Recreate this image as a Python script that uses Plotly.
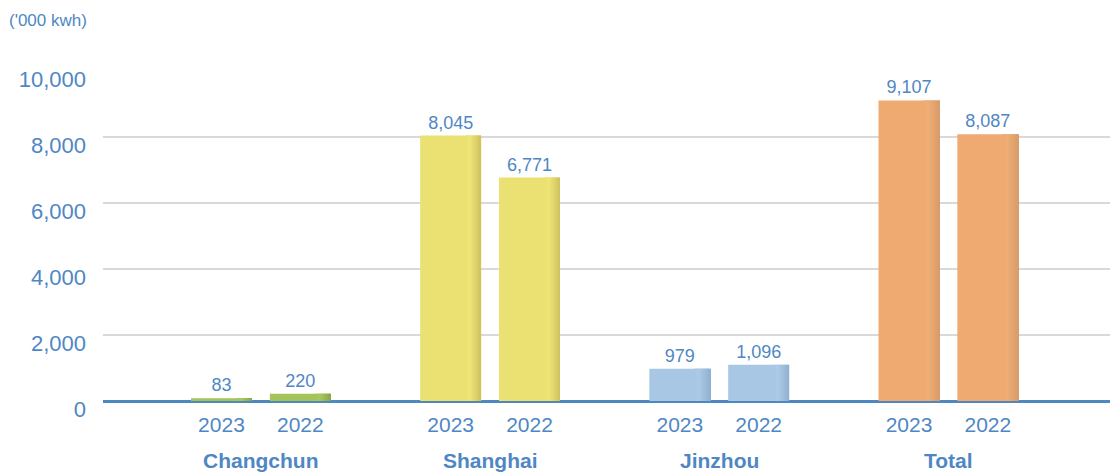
import plotly.graph_objects as go

categories = ["Changchun", "Shanghai", "Jinzhou", "Total"]
years = ["2023", "2022"]
values_2023 = [83, 8045, 979, 9107]
values_2022 = [220, 6771, 1096, 8087]
y_ticks = [0, 2000, 4000, 6000, 8000, 10000]
y_tick_text = ["0", "2,000", "4,000", "6,000", "8,000", "10,000"]
unit_label = "('000 kwh)"

base_colors = ["#a4c35b", "#ebe172", "#a8c7e4", "#eeaa71"]
dark_colors = ["#8aa847", "#d2c462", "#92b2d1", "#d89d6b"]
light_colors = ["#a9c862", "#eee577", "#adcbe7", "#f0ae76"]

BLUE = "#4f87c4"
FONT = "Liberation Sans, Arial, sans-serif"

W = 0.266
offsets = {"2023": -0.172, "2022": 0.172}
series = {"2023": values_2023, "2022": values_2022}


def hex2rgb(h):
    h = h.lstrip("#")
    return tuple(int(h[i:i + 2], 16) for i in (0, 2, 4))


def blend(a, b, t):
    ra, rb = hex2rgb(a), hex2rgb(b)
    return "rgb(%d,%d,%d)" % tuple(round(ra[i] + (rb[i] - ra[i]) * t) for i in range(3))


idx = list(range(len(categories)))
fig = go.Figure()

for yr in years:
    d = offsets[yr]
    vals = series[yr]
    fig.add_trace(go.Bar(
        x=idx, y=vals, width=W, offset=d - W / 2,
        marker=dict(color=base_colors, line=dict(width=0)),
        text=[f"{v:,}" for v in vals], textposition="outside",
        textfont=dict(color=BLUE, size=18, family=FONT),
        cliponaxis=False, showlegend=False,
    ))
    # gradient shading on the right edge
    n = 12
    start = 0.74
    sw = W * (1 - start) / n
    for k in range(n):
        t = k / (n - 1)
        if t < 0.25:
            cols = [blend(base_colors[i], light_colors[i], t / 0.25) for i in idx]
        else:
            cols = [blend(light_colors[i], dark_colors[i], (t - 0.25) / 0.75) for i in idx]
        wk = sw * (1.6 if k < n - 1 else 1.0)
        fig.add_trace(go.Bar(
            x=idx, y=vals, width=wk,
            offset=d - W / 2 + W * start + k * sw,
            marker=dict(color=cols, line=dict(width=0)),
            hoverinfo="skip", showlegend=False,
        ))

tick_pos = []
tick_txt = []
for i in idx:
    for yr in years:
        tick_pos.append(i + offsets[yr])
        tick_txt.append(yr)

fig.update_layout(
    width=1110, height=473,
    margin=dict(l=103, r=0, t=71, b=72),
    barmode="overlay",
    plot_bgcolor="white", paper_bgcolor="white",
    font=dict(family=FONT, color=BLUE),
    xaxis=dict(
        range=[-0.689, 3.705], tickvals=tick_pos, ticktext=tick_txt,
        tickfont=dict(size=21, color=BLUE, family=FONT),
        showgrid=False, zeroline=False, showline=False, ticks="",
        ticklabelstandoff=9,
    ),
    yaxis=dict(
        range=[0, 10000], tickvals=y_ticks, ticktext=y_tick_text,
        tickfont=dict(size=22, color=BLUE, family=FONT),
        showgrid=True, gridcolor="#d9d9d9", gridwidth=1.5,
        zeroline=True, zerolinecolor="#4f87c0", zerolinewidth=3,
        ticks="", ticklabelstandoff=16, ticklabelshift=8,
    ),
    annotations=[
        dict(text=c, x=i, y=0, xref="x", yref="paper", yanchor="top",
             yshift=-46, showarrow=False,
             font=dict(size=21, color=BLUE, family=FONT, weight="bold"))
        for i, c in enumerate(categories)
    ] + [
        dict(text=unit_label, x=0, y=1, xref="paper", yref="paper",
             xanchor="left", yanchor="top", xshift=-96, yshift=62,
             showarrow=False, font=dict(size=17, color=BLUE, family=FONT))
    ],
)

fig.write_html("out.html")
